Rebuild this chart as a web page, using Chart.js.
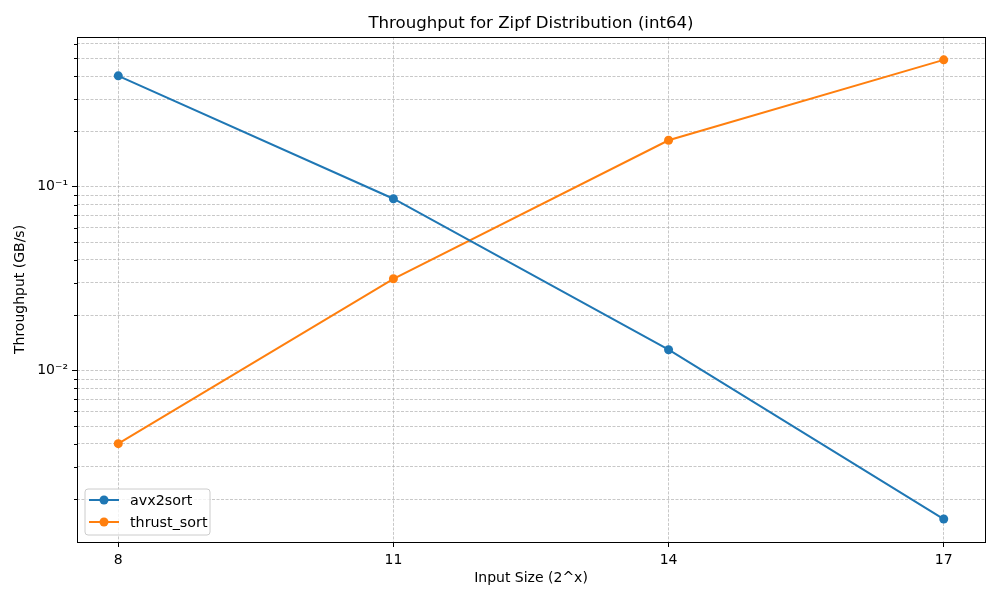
<!DOCTYPE html>
<html>
<head>
<meta charset="utf-8">
<script src="https://cdn.jsdelivr.net/npm/chart.js@4"></script>
<style>
  html, body { margin: 0; padding: 0; background: #fff; }
  #wrap { width: 1000px; height: 600px; }
</style>
</head>
<body>
<div id="wrap"><canvas id="stage"></canvas></div>
<script>
// input size exponent (2^x)
const sizes = [8, 11, 14, 17];
// throughput in GB/s
const avx2sort = [0.401, 0.0861, 0.0130, 0.00156];
const thrustSort = [0.00401, 0.0316, 0.179, 0.490];
const seriesNames = ['avx2sort', 'thrust_sort'];
const seriesColors = ['#1f77b4', '#ff7f0e'];
// axis limits (matplotlib 5% margins)
const xRange = [7.55, 17.45];
const yRange = [0.00117, 0.653];

const FONT = 'DejaVu Sans';
Chart.defaults.font.family = FONT;
Chart.defaults.color = '#000';

const sup = { '-': '⁻', '0': '⁰', '1': '¹', '2': '²', '3': '³', '4': '⁴', '5': '⁵', '6': '⁶', '7': '⁷', '8': '⁸', '9': '⁹' };
function isPow10(v) {
    const l = Math.log10(v);
    return Math.abs(l - Math.round(l)) < 1e-6;
}
function powLabel(v) {
    if (!isPow10(v)) return '';
    const e = Math.round(Math.log10(v));
    return '10' + String(e).split('').map(c => sup[c]).join('');
}

const gridStyle = {
    color: '#b0b0b0',
    lineWidth: 0.7,
    tickLength: 5,
    tickWidth: 1,
    tickBorderDash: [],
};
// in v4 the grid line dash lives under border
const dashedBorder = { display: false, dash: [3, 1.5] };

// spines, minor ticks and the legend box inside the axes
const frameAndLegend = {
    id: 'frameAndLegend',
    afterDraw(chart) {
        const { ctx, chartArea: a } = chart;
        const y = chart.scales.y;
        ctx.save();
        ctx.strokeStyle = '#000';
        ctx.lineWidth = 1;
        y.ticks.forEach(t => {
            if (isPow10(t.value)) return;
            const py = Math.round(y.getPixelForValue(t.value)) + 0.5;
            ctx.beginPath();
            ctx.moveTo(a.left - 3, py);
            ctx.lineTo(a.left, py);
            ctx.stroke();
        });
        const l = Math.round(a.left) + 0.5, t = Math.round(a.top) + 0.5;
        const r = Math.round(a.right) + 0.5, b = Math.round(a.bottom) + 0.5;
        ctx.strokeRect(l, t, r - l, b - t);

        // legend
        const bx = a.left + 8, bw = 125, bh = 46, by = a.bottom - 7 - bh, rad = 3;
        ctx.beginPath();
        ctx.moveTo(bx + rad, by);
        ctx.lineTo(bx + bw - rad, by);
        ctx.arcTo(bx + bw, by, bx + bw, by + rad, rad);
        ctx.lineTo(bx + bw, by + bh - rad);
        ctx.arcTo(bx + bw, by + bh, bx + bw - rad, by + bh, rad);
        ctx.lineTo(bx + rad, by + bh);
        ctx.arcTo(bx, by + bh, bx, by + bh - rad, rad);
        ctx.lineTo(bx, by + rad);
        ctx.arcTo(bx, by, bx + rad, by, rad);
        ctx.closePath();
        ctx.fillStyle = 'rgba(255,255,255,0.8)';
        ctx.fill();
        ctx.strokeStyle = '#cccccc';
        ctx.stroke();

        ctx.font = '14.3px "' + FONT + '"';
        ctx.textBaseline = 'middle';
        chart.data.datasets.forEach((ds, i) => {
            const ly = by + 11 + i * 22;
            ctx.strokeStyle = ds.borderColor;
            ctx.lineWidth = 2;
            ctx.beginPath();
            ctx.moveTo(bx + 4, ly);
            ctx.lineTo(bx + 34, ly);
            ctx.stroke();
            ctx.fillStyle = ds.borderColor;
            ctx.beginPath();
            ctx.arc(bx + 19, ly, 4.5, 0, Math.PI * 2);
            ctx.fill();
            ctx.fillStyle = '#000';
            ctx.fillText(ds.label, bx + 45, ly + 1);
        });
        ctx.restore();
    }
};

function makeSet(name, color, values) {
    return {
        label: name,
        data: sizes.map((s, i) => ({ x: s, y: values[i] })),
        borderColor: color,
        backgroundColor: color,
        borderWidth: 2,
        pointRadius: 4.5,
        pointBorderWidth: 0,
        pointBackgroundColor: color,
        tension: 0,
    };
}

new Chart(document.getElementById('stage'), {
    type: 'line',
    data: {
        datasets: [
            makeSet(seriesNames[0], seriesColors[0], avx2sort),
            makeSet(seriesNames[1], seriesColors[1], thrustSort),
        ]
    },
    options: {
        responsive: true,
        maintainAspectRatio: false,
        animation: false,
        layout: { padding: { top: 0, right: 15, bottom: 0, left: 0 } },
        plugins: {
            legend: { display: false },
            tooltip: { enabled: false },
            title: {
                display: true,
                text: 'Throughput for Zipf Distribution (int64)',
                fullSize: false,
                font: { size: 16.6, weight: 'normal' },
                padding: { top: 14, bottom: 3 },
            },
        },
        scales: {
            x: {
                type: 'linear',
                min: xRange[0],
                max: xRange[1],
                afterBuildTicks: s => { s.ticks = sizes.map(v => ({ value: v })); },
                afterFit: s => { s.height = 58; },
                ticks: { font: { size: 14 }, padding: 5, autoSkip: false, maxRotation: 0 },
                grid: Object.assign({}, gridStyle, { tickColor: '#000' }),
                border: dashedBorder,
                title: { display: true, text: 'Input Size (2^x)', font: { size: 14 }, padding: { top: 0, bottom: 13 } },
            },
            y: {
                type: 'logarithmic',
                min: yRange[0],
                max: yRange[1],
                afterBuildTicks: s => {
                    const ticks = [];
                    for (let e = -3; e <= 0; e++) {
                        for (let k = 1; k <= 9; k++) {
                            const v = k * Math.pow(10, e);
                            if (v > yRange[0] && v < yRange[1]) ticks.push({ value: v, major: k === 1 });
                        }
                    }
                    s.ticks = ticks;
                },
                afterFit: s => { s.width = 77; },
                ticks: { font: { size: 14 }, padding: 4, autoSkip: false, callback: v => powLabel(v) },
                grid: Object.assign({}, gridStyle, {
                    tickColor: c => (c.tick && isPow10(c.tick.value)) ? '#000' : 'rgba(0,0,0,0)',
                }),
                border: dashedBorder,
                title: { display: true, text: 'Throughput (GB/s)', font: { size: 14 }, padding: { top: 12, bottom: 0 } },
            },
        },
    },
    plugins: [frameAndLegend],
});
</script>
</body>
</html>
